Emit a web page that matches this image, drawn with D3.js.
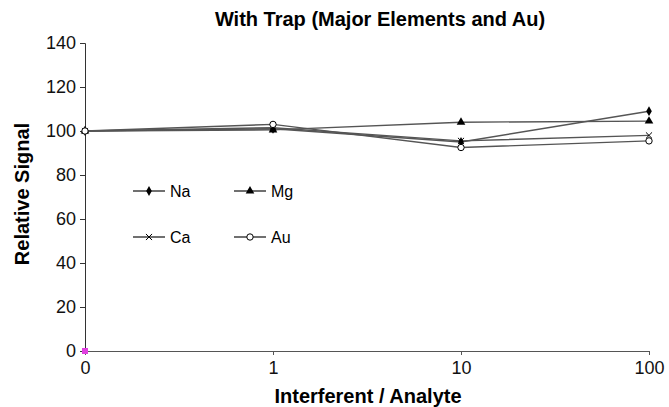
<!DOCTYPE html>
<html><head><meta charset="utf-8">
<script src="https://cdn.jsdelivr.net/npm/d3@7"></script>
<style>body{margin:0;background:#fff}svg{display:block;font-family:"Liberation Sans",Arial,sans-serif}</style>
</head><body><svg id="c" width="669" height="407"></svg>
<script>
const categories = ["0", "1", "10", "100"];
const yTicks = [0, 20, 40, 60, 80, 100, 120, 140];
const na = [100, 101, 95, 109];
const mg = [100, 100.5, 104, 104.5];
const ca = [100, 101.5, 95.5, 98];
const au = [100, 103, 92.5, 95.5];
const seriesNames = ["Na", "Mg", "Ca", "Au"];

const svg = d3.select("#c");
const x = d3.scalePoint().domain(categories).range([85, 649]);
const y = d3.scaleLinear().domain([0, 140]).range([351, 43]);

svg.append("text").attr("x", 380).attr("y", 26).attr("text-anchor", "middle")
  .attr("font-weight", "bold").attr("font-size", 20).text("With Trap (Major Elements and Au)");

const yAx = svg.append("g").attr("transform", "translate(85,0)")
  .call(d3.axisLeft(y).tickValues(yTicks).tickSize(5).tickPadding(4));
yAx.selectAll("text").attr("font-size", 18).attr("fill", "#111").style("font-family", "Liberation Sans, Arial");
yAx.selectAll("line,path").attr("stroke", "#333");

const xAx = svg.append("g").attr("transform", "translate(0,351)")
  .call(d3.axisBottom(x).tickSize(4).tickPadding(6));
xAx.selectAll("text").attr("font-size", 18).attr("fill", "#111").style("font-family", "Liberation Sans, Arial");
xAx.selectAll("line,path").attr("stroke", "#555");

svg.append("text").attr("transform", "translate(29,194) rotate(-90)").attr("text-anchor", "middle")
  .attr("font-weight", "bold").attr("font-size", 20).text("Relative Signal");
svg.append("text").attr("x", 368).attr("y", 403).attr("text-anchor", "middle")
  .attr("font-weight", "bold").attr("font-size", 20).text("Interferent / Analyte");

const series = [na, mg, ca, au];
const line = d3.line().x((d, i) => x(categories[i])).y(d => y(d));

function marker(g, k, cx, cy) {
  if (k === 0) g.append("path").attr("d", d3.symbol(d3.symbolDiamond, 28)()).attr("transform", `translate(${cx},${cy})`).attr("fill", "#000");
  else if (k === 1) g.append("path").attr("d", d3.symbol(d3.symbolTriangle, 32)()).attr("transform", `translate(${cx},${cy})`).attr("fill", "#000");
  else if (k === 2) g.append("path").attr("d", d3.symbol(d3.symbolX, 26)()).attr("transform", `translate(${cx},${cy})`).attr("fill", "none").attr("stroke", "#000").attr("stroke-width", 1);
  else g.append("circle").attr("cx", cx).attr("cy", cy).attr("r", 3.2).attr("fill", "#fff").attr("stroke", "#000").attr("stroke-width", 1);
}

series.forEach((s, k) => {
  svg.append("path").datum(s).attr("d", line).attr("fill", "none").attr("stroke", "#555").attr("stroke-width", 1.4);
});
series.forEach((s, k) => {
  const g = svg.append("g");
  s.forEach((d, i) => marker(g, k, x(categories[i]), y(d)));
});

// magenta marker at origin
svg.append("rect").attr("x", x("0") - 3).attr("y", y(0) - 3).attr("width", 6).attr("height", 6).attr("fill", "#e040e0");

// legend
const legPos = [[133, 191], [234, 191], [133, 237], [234, 237]];
seriesNames.forEach((n, k) => {
  const [lx, ly] = legPos[k];
  const g = svg.append("g");
  g.append("line").attr("x1", lx).attr("x2", lx + 32).attr("y1", ly).attr("y2", ly).attr("stroke", "#333").attr("stroke-width", 1.4);
  marker(g, k, lx + 16, ly);
  g.append("text").attr("x", lx + 37).attr("y", ly + 6).attr("font-size", 16).text(n);
});
</script></body></html>
